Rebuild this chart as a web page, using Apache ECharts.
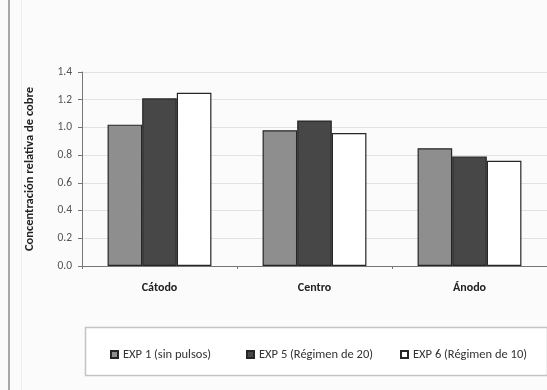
<!DOCTYPE html>
<html>
<head>
<meta charset="utf-8">
<script src="https://cdn.jsdelivr.net/npm/echarts@6/dist/echarts.min.js"></script>
<style>
  html, body { margin: 0; padding: 0; background: #fbfbfb; }
  #chart { width: 547px; height: 390px; }
</style>
</head>
<body>
<div id="chart"></div>
<script>
// Zones of the cell and tick values of the value axis
const categories = ['Cátodo', 'Centro', 'Ánodo'];
const seriesNames = ['EXP 1 (sin pulsos)', 'EXP 5 (Régimen de 20)', 'EXP 6 (Régimen de 10)'];
const exp1 = [1.02, 0.98, 0.85];
const exp5 = [1.21, 1.05, 0.79];
const exp6 = [1.25, 0.96, 0.76];
const yTicks = [0.0, 0.2, 0.4, 0.6, 0.8, 1.0, 1.2, 1.4];

const FONT = "Carlito, 'Liberation Sans', 'DejaVu Sans', sans-serif";
const fills = ['#8e8e8e', '#474747', '#ffffff'];
const values = [exp1, exp5, exp6];
const legendX = [105, 241, 395];

const chart = echarts.init(document.getElementById('chart'));

chart.setOption({
  backgroundColor: '#fbfbfb',
  animation: false,
  textStyle: { fontFamily: FONT },
  grid: { left: 82, top: 72, width: 468, height: 194 },
  graphic: [
    { type: 'rect', shape: { x: 8, y: 0, width: 2, height: 390 }, style: { fill: '#a8a8a8' }, silent: true },
    { type: 'rect', shape: { x: 21, y: 0, width: 1, height: 390 }, style: { fill: '#eeeeee' }, silent: true },
    { type: 'rect', shape: { x: 85.5, y: 327.5, width: 462, height: 48 },
      style: { fill: '#ffffff', stroke: '#c4c4c4', lineWidth: 1.5 }, silent: true, z: -1 }
  ],
  legend: seriesNames.map((name, i) => ({
    data: [name],
    left: legendX[i],
    top: 343,
    itemWidth: 7,
    itemHeight: 7,
    itemGap: 4,
    icon: 'rect',
    textStyle: { fontSize: 12.5, color: '#333', fontFamily: FONT }
  })),
  xAxis: {
    type: 'category',
    data: categories,
    axisLine: { lineStyle: { color: '#777', width: 1 } },
    axisTick: { show: true, alignWithLabel: false, length: 3, lineStyle: { color: '#777' } },
    axisLabel: { fontSize: 12, fontWeight: 'bold', color: '#222', margin: 16, fontFamily: FONT }
  },
  yAxis: {
    type: 'value',
    min: 0,
    max: 1.4,
    interval: 0.2,
    name: 'Concentración relativa de cobre',
    nameLocation: 'middle',
    nameGap: 46,
    nameTextStyle: { fontSize: 12.5, fontWeight: 'bold', color: '#222', fontFamily: FONT },
    axisLine: { show: true, lineStyle: { color: '#777' } },
    axisTick: { show: true, length: 4, lineStyle: { color: '#777' } },
    splitLine: { lineStyle: { color: '#e2e2e2' } },
    axisLabel: {
      fontSize: 11.5, color: '#555', margin: 10, fontFamily: FONT,
      formatter: v => yTicks.includes(Math.round(v * 10) / 10) ? v.toFixed(1) : ''
    }
  },
  series: seriesNames.map((name, i) => ({
    name: name,
    type: 'bar',
    data: values[i],
    barGap: '0%',
    barCategoryGap: '33%',
    itemStyle: { color: fills[i], borderColor: '#262626', borderWidth: 1.2 }
  }))
});
</script>
</body>
</html>
